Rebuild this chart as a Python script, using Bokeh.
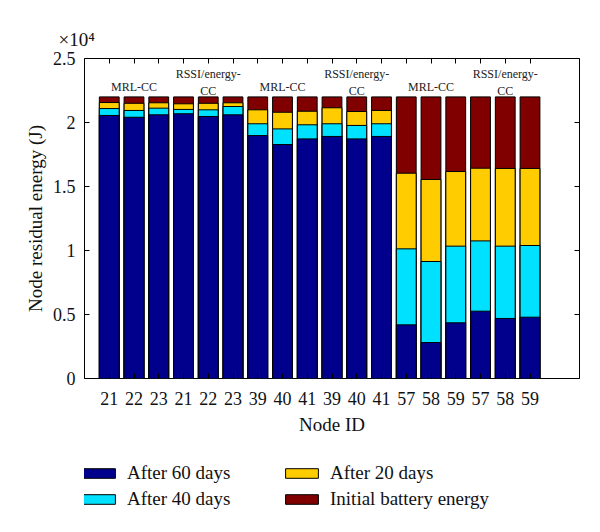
from bokeh.plotting import figure
from bokeh.layouts import column
from bokeh.models import (Range1d, LinearAxis, FixedTicker, Legend, LegendItem,
                          Title, ColumnDataSource)
from bokeh.core.properties import value
from bokeh.embed import file_html
from bokeh.resources import INLINE

node_ids = ["21", "22", "23", "21", "22", "23", "39", "40", "41",
            "39", "40", "41", "57", "58", "59", "57", "58", "59"]
initial_energy = [22000] * 18
after_20_days = [21560, 21500, 21540, 21460, 21500, 21540,
                 20990, 20800, 20880, 21150, 20860, 20940,
                 16040, 15550, 16170, 16430, 16410, 16410]
after_40_days = [21090, 20940, 21120, 21020, 20990, 21250,
                 19900, 19500, 19820, 19900, 19770, 19900,
                 10130, 9140, 10340, 10750, 10340, 10390]
after_60_days = [20550, 20410, 20600, 20680, 20470, 20600,
                 18980, 18280, 18720, 18910, 18720, 18910,
                 4190, 2810, 4350, 5260, 4690, 4790]
group_labels = ["MRL-CC", "RSSI/energy-\nCC", "MRL-CC", "RSSI/energy-\nCC",
                "MRL-CC", "RSSI/energy-\nCC"]
series_names = ["After 60 days", "After 40 days", "After 20 days",
                "Initial battery energy"]
y_tick_values = [0, 5000, 10000, 15000, 20000, 25000]
y_tick_labels = ["0", "0.5", "1", "1.5", "2", "2.5"]

FONT = "Liberation Serif"
positions = list(range(1, len(node_ids) + 1))

src = ColumnDataSource(dict(x=positions, init=initial_energy, d20=after_20_days,
                            d40=after_40_days, d60=after_60_days))

p = figure(frame_width=495, frame_height=320, x_range=Range1d(0, 20),
           y_range=Range1d(0, 25000), output_backend="svg", toolbar_location=None,
           min_border_left=84, min_border_right=21, min_border_top=58,
           min_border_bottom=67, x_axis_location=None, y_axis_location=None)
p.outline_line_color = "black"
p.outline_line_width = 1
p.grid.visible = False
p.background_fill_color = "white"
p.border_fill_color = "white"

keys = ["d60", "d40", "d20", "init"]
colors = {"init": "#800000", "d20": "#FFCC00", "d40": "#00E1FF", "d60": "#00008C"}
for key in ["init", "d20", "d40", "d60"]:
    p.vbar(x="x", top=key, bottom=0, width=0.8, source=src,
           fill_color=colors[key], line_color="black", line_width=1)

# group labels
gsrc = ColumnDataSource(dict(x=[2 + 3 * i for i in range(len(group_labels))],
                             y=[22800 if "\n" not in g else 23100 for g in group_labels],
                             t=group_labels))
p.text(x="x", y="y", text="t", source=gsrc, text_font=value(FONT),
       text_font_size="12px", text_align="center", text_baseline="middle",
       text_color="#222222", text_line_height=1.2)

def style_axis(ax):
    ax.axis_line_color = None
    ax.major_tick_in = 5
    ax.major_tick_out = 0
    ax.minor_tick_line_color = None
    ax.major_tick_line_color = "black"
    ax.major_label_text_font = FONT
    ax.major_label_text_font_size = "18px"
    ax.major_label_text_color = "#111111"
    ax.axis_label_text_font = FONT
    ax.axis_label_text_font_size = "19px"
    ax.axis_label_text_font_style = "normal"
    ax.axis_label_text_color = "#111111"

x_over = {pos: lab for pos, lab in zip(positions, node_ids)}
y_over = {v: l for v, l in zip(y_tick_values, y_tick_labels)}

xb = LinearAxis(ticker=FixedTicker(ticks=positions), major_label_overrides=x_over,
                axis_label="Node ID")
style_axis(xb)
xb.major_label_standoff = 13
xb.axis_label_standoff = 6
p.add_layout(xb, "below")

xt = LinearAxis(ticker=FixedTicker(ticks=positions),
                major_label_overrides={pos: "" for pos in positions})
style_axis(xt)
xt.major_label_standoff = 0
p.add_layout(xt, "above")

yl = LinearAxis(ticker=FixedTicker(ticks=y_tick_values), major_label_overrides=y_over,
                axis_label="Node residual energy (J)")
style_axis(yl)
yl.major_label_standoff = 9
yl.axis_label_standoff = 4
p.add_layout(yl, "left")

yr = LinearAxis(ticker=FixedTicker(ticks=y_tick_values),
                major_label_overrides={v: "" for v in y_tick_values})
style_axis(yr)
yr.major_label_standoff = 0
p.add_layout(yr, "right")

ttl = Title(text="×10⁴", align="left", offset=-26, text_font=FONT,
            text_font_size="19px", text_font_style="normal", text_color="#111111",
            standoff=17)
p.add_layout(ttl, "above")

# legend panel (separate figure below the chart; its frame aligns with the chart's)
lg = figure(width=600, height=87, x_range=Range1d(0, 1), y_range=Range1d(0, 1),
            output_backend="svg", toolbar_location=None, min_border=0,
            x_axis_location=None, y_axis_location=None)
lg.outline_line_color = None
lg.grid.visible = False
hidden = ColumnDataSource(dict(x=[-5], top=[-5]))
leg_renderers = {}
for key in keys:
    leg_renderers[key] = lg.vbar(x="x", top="top", bottom=-6, width=0.8, source=hidden,
                                 fill_color=colors[key], line_color="black",
                                 line_width=1)

def make_legend(items, loc):
    leg = Legend(items=items, location=loc, orientation="vertical")
    leg.border_line_color = None
    leg.background_fill_alpha = 0
    leg.padding = 0
    leg.margin = 0
    leg.spacing = 4
    leg.glyph_width = 41
    leg.glyph_height = 12
    leg.label_height = 20
    leg.label_standoff = 8
    leg.label_text_font = FONT
    leg.label_text_font_size = "19px"
    leg.label_text_color = "#111111"
    return leg

items = [LegendItem(label=name, renderers=[leg_renderers[k]])
         for name, k in zip(series_names, keys)]
lg.add_layout(make_legend(items[:2], (-6, 22)), "center")
lg.add_layout(make_legend(items[2:], (197, 22)), "center")

layout = column(p, lg, spacing=0)
open("out.html", "w").write(file_html(layout, INLINE))
